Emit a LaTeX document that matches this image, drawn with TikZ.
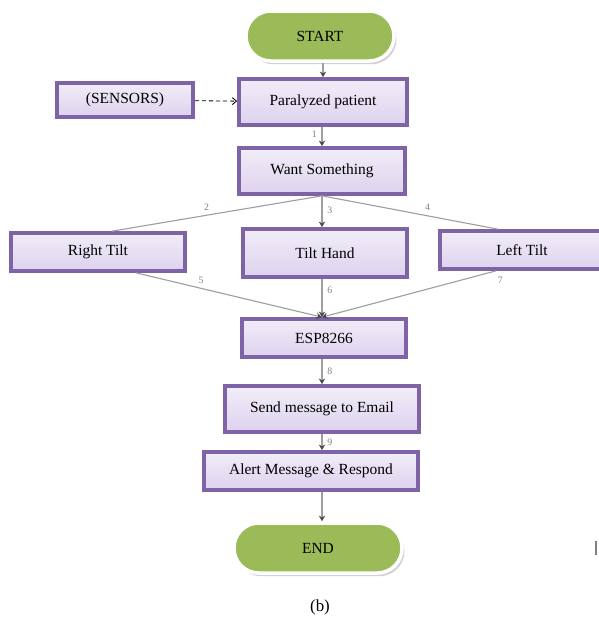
\documentclass[tikz,border=0pt]{standalone}
\usepackage{fontspec}
\setmainfont{Liberation Serif}
\usetikzlibrary{arrows.meta,shadows}
\definecolor{boxline}{HTML}{7E63A6}
\definecolor{boxfill}{HTML}{DDD2EE}
\definecolor{pillgreen}{HTML}{9BBB59}
\tikzset{
	flowbox/.style={draw=boxline,line width=2.6pt,top color=white!60!boxfill,bottom color=boxfill,minimum height=1.05cm,font=\fontsize{11}{13}\selectfont},
	pill/.style={draw=white,line width=2.5pt,fill=pillgreen,rounded corners=.62cm,minimum width=3.7cm,minimum height=1.25cm,font=\fontsize{11}{13}\selectfont,drop shadow={opacity=.35,shadow xshift=.6mm,shadow yshift=-.8mm}},
	link/.style={draw=gray!75,line width=.8pt,-{Stealth[length=4pt,width=4.5pt,color=black!70]}},
	num/.style={font=\fontsize{7}{8}\selectfont,text=gray}
}
\begin{document}
\begin{tikzpicture}[x=.025cm,y=-.025cm]
	\useasboundingbox (0,0) rectangle (599,626);
	% ends
	\node[pill] (start) at (320,36) {START};
	\node[pill,minimum width=4.2cm] (end) at (318,548) {END};
	% boxes
	\node[flowbox,minimum width=3.4cm,minimum height=.85cm] (sensors) at (125,100) {(SENSORS)};
	\node[flowbox,minimum width=4.2cm,minimum height=1.15cm] (patient) at (323,102) {Paralyzed patient};
	\node[flowbox,minimum width=4.15cm,minimum height=1.15cm] (want) at (322,171) {Want Something};
	\node[flowbox,minimum width=4.35cm,minimum height=.95cm] (right) at (98,252) {Right Tilt};
	\node[flowbox,minimum width=4.1cm,minimum height=1.2cm] (hand) at (325,253) {Tilt Hand};
	\node[flowbox,minimum width=4.1cm,minimum height=.95cm] (left) at (522,250) {Left Tilt};
	\node[flowbox,minimum width=4.1cm,minimum height=.95cm] (esp) at (324,338) {ESP8266};
	\node[flowbox,minimum width=4.85cm,minimum height=1.15cm] (send) at (322,409) {Send message to Email};
	\node[flowbox,minimum width=5.35cm,minimum height=.95cm] (alert) at (311,471) {Alert Message \& Respond};
	% connectors
	\draw[link] (start.south -| patient) -- (patient);
	\draw[densely dashed,line width=.6pt,-{Straight Barb[length=3pt,width=5pt]}] (sensors) -- (patient);
	\draw[link] (patient.south -| want) -- node[num,left,pos=.4] {1} (want);
	\draw[link,-] (want.south) -- node[num,above,pos=.55] {2} ([xshift=.35cm]right.north);
	\draw[link] (want.south) -- node[num,right,pos=.45] {3} (want.south |- hand.north);
	\draw[link,-] (want.south) -- node[num,above,pos=.6] {4} ([xshift=-.6cm]left.north);
	\draw[link] ([xshift=.95cm]right.south) -- node[num,above,pos=.35] {5} (esp.north -| want);
	\draw[link] (hand.south -| want) -- node[num,right,pos=.3] {6} (esp.north -| want);
	\draw[link] ([xshift=-.65cm]left.south) -- node[num,below right,pos=.02] {7} (esp.north -| want);
	\draw[link] (esp.south -| want) -- node[num,right] {8} (send.north -| want);
	\draw[link] (send.south -| want) -- node[num,right] {9} (alert.north -| want);
	\draw[link] (alert.south -| want) -- (end.north -| want);
	% caption
	\node[font=\fontsize{12}{14}\selectfont] (caption) at (320,607) {(b)};
	\draw[gray,line width=.8pt] (596,541) -- (596,555);
\end{tikzpicture}
\end{document}
